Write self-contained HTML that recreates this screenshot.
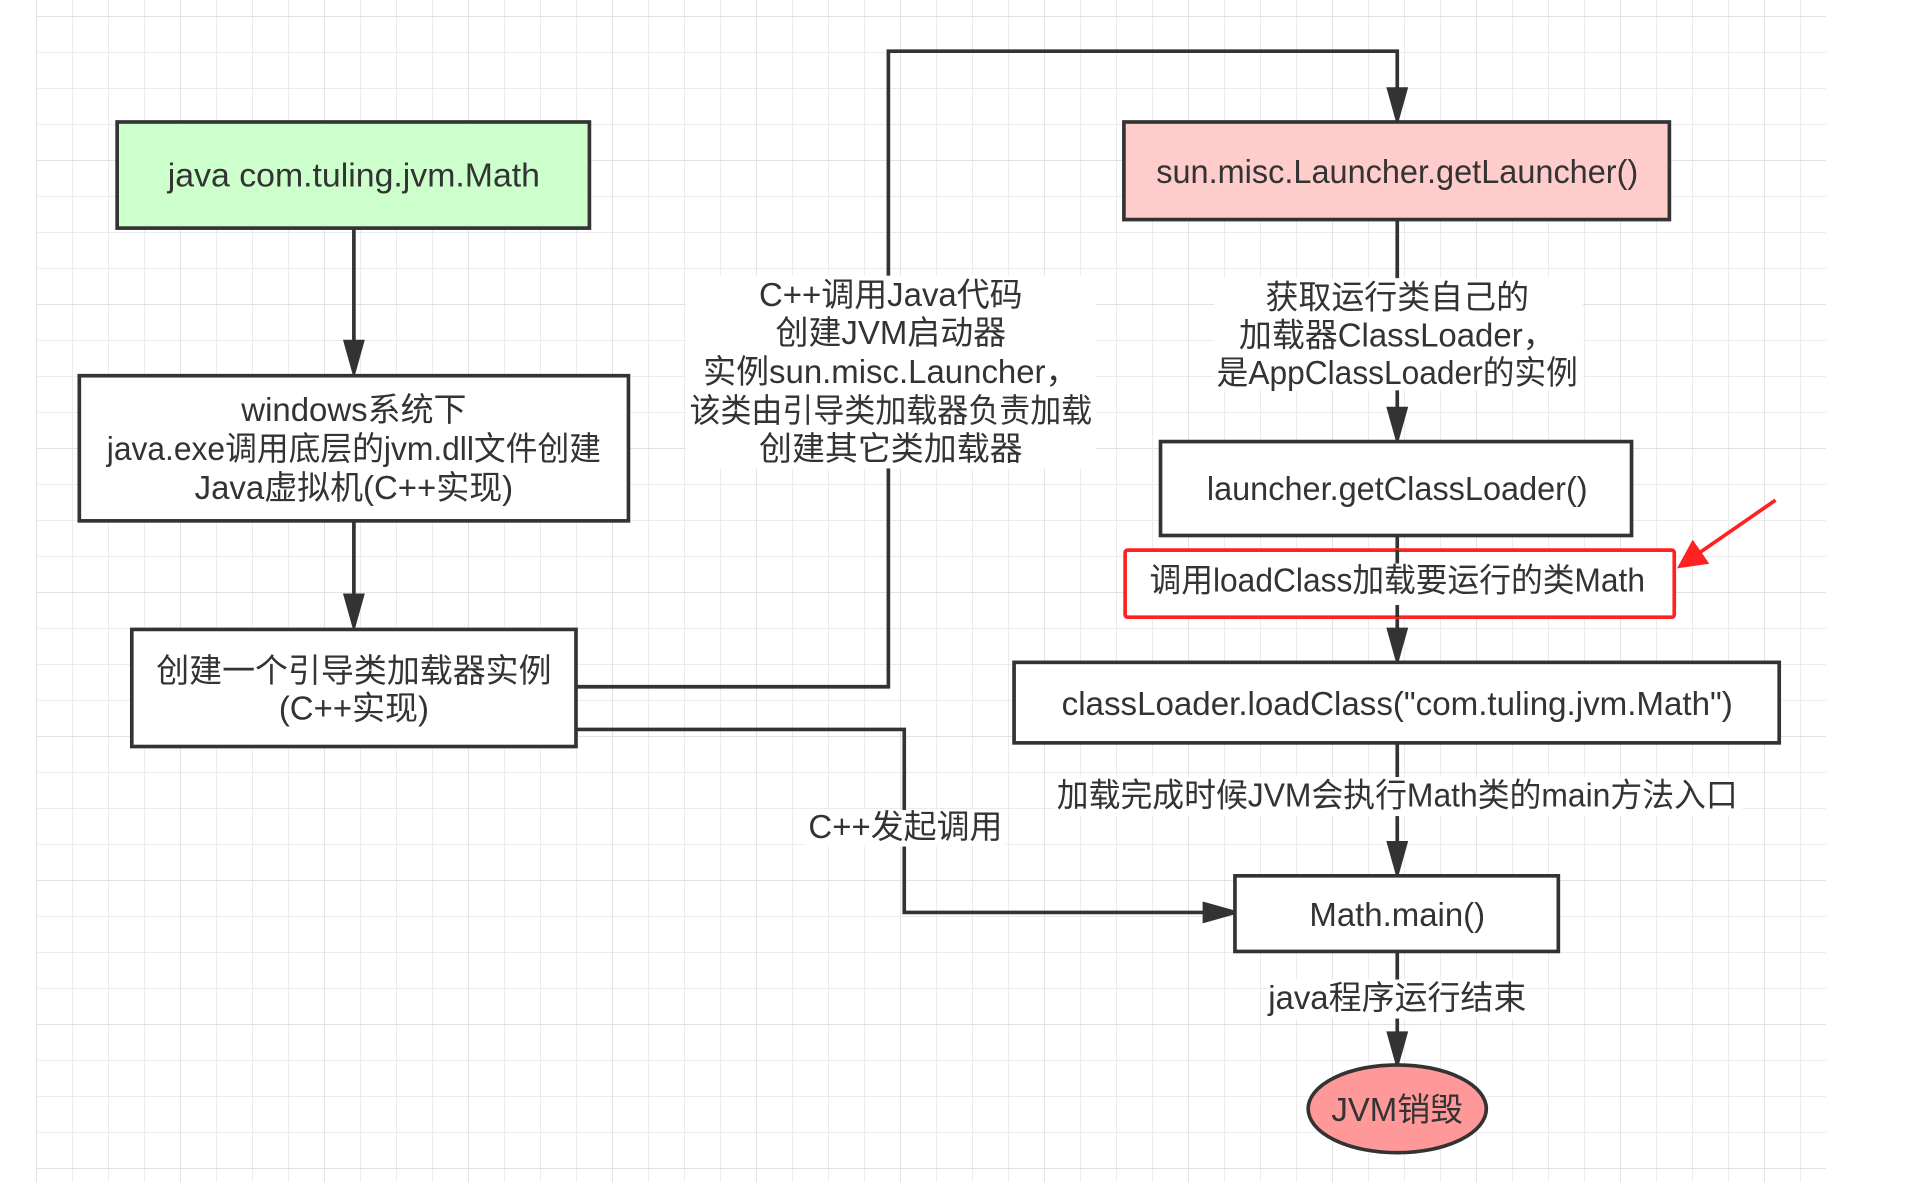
<!DOCTYPE html>
<html><head><meta charset="utf-8"><style>
html,body{margin:0;padding:0;background:#fff;}
svg{display:block;position:absolute;left:0;top:0;}
text{font-family:"Liberation Sans","Noto Sans CJK SC",sans-serif;fill:#333;}
</style></head><body>
<svg width="1911" height="1182" viewBox="0 0 1911 1182">
<defs>
<pattern id="g" x="36" y="16" width="36" height="36" patternUnits="userSpaceOnUse">
<path d="M0 0H36M0 0V36" stroke="#ececec" stroke-width="2" fill="none"/>
</pattern>
<pattern id="G" x="36" y="16" width="144" height="144" patternUnits="userSpaceOnUse">
<path d="M0 0H144M0 0V144" stroke="#e2e2e2" stroke-width="2" fill="none"/>
</pattern>
</defs>
<rect x="36" y="0" width="1790" height="1182" fill="url(#g)"/>
<rect x="36" y="0" width="1790" height="1182" fill="url(#G)"/>
</svg>
<svg width="1911" height="1182" viewBox="0 0 1566 969" preserveAspectRatio="none">
<defs>
<marker id="ar" viewBox="0 0 10 10" refX="2" refY="5" markerWidth="8" markerHeight="8" orient="auto"><path d="M0 0L10 5L0 10Z" fill="#f22"/></marker>
</defs>
<g stroke="#333" stroke-width="3" fill="none">
<path d="M290 187V294"/><path d="M283 280L290 305L297 280Z" fill="#333"/>
<path d="M290 427V500"/><path d="M283 488L290 513L297 488Z" fill="#333"/>
<path d="M472 563H728V42H1145V86"/><path d="M1138 73L1145 98L1152 73Z" fill="#333"/>
<path d="M472 598H741V748H1000"/><path d="M987 741L1012 748L987 755Z" fill="#333"/>
<path d="M1145 180V348"/><path d="M1138 335L1145 360L1152 335Z" fill="#333"/>
<path d="M1145 439V530"/><path d="M1138 516L1145 541L1152 516Z" fill="#333"/>
<path d="M1145 609V705"/><path d="M1138 691L1145 716L1152 691Z" fill="#333"/>
<path d="M1145 780V860"/><path d="M1138 847L1145 872L1152 847Z" fill="#333"/>
</g>
<rect x="96" y="100" width="387" height="87" fill="#ccffcc" stroke="#333" stroke-width="3"/>
<rect x="65" y="308" width="450" height="119" fill="#fff" stroke="#333" stroke-width="3"/>
<rect x="108" y="516" width="364" height="96" fill="#fff" stroke="#333" stroke-width="3"/>
<rect x="921" y="100" width="447" height="80" fill="#ffcccc" stroke="#333" stroke-width="3"/>
<rect x="951" y="362" width="386" height="77" fill="#fff" stroke="#333" stroke-width="3"/>
<rect x="922" y="451" width="450" height="55" fill="#fff" stroke="#f22" stroke-width="3" rx="2"/>
<path d="M1145 451V462M1145 496V506" stroke="#333" stroke-width="3"/>
<rect x="831" y="543" width="627" height="66" fill="#fff" stroke="#333" stroke-width="3"/>
<rect x="1012" y="718" width="265" height="62" fill="#fff" stroke="#333" stroke-width="3"/>
<ellipse cx="1145" cy="909" rx="73" ry="36" fill="#ff9999" stroke="#333" stroke-width="3"/>
<path d="M1455 410L1390 455" stroke="#f22" stroke-width="3" marker-end="url(#ar)"/>
<g fill="#fff">
<rect x="562" y="226" width="336" height="158"/>
<rect x="995" y="228" width="302" height="92"/>
<rect x="660" y="664" width="164" height="30"/>
<rect x="864" y="637" width="564" height="32"/>
<rect x="1042" y="803" width="206" height="32"/>
</g>
<g font-size="27" text-anchor="middle">
<text x="290" y="153" textLength="305" lengthAdjust="spacingAndGlyphs">java com.tuling.jvm.Math</text>
<text x="290" y="345">windows系统下</text>
<text x="290" y="377" textLength="405" lengthAdjust="spacingAndGlyphs">java.exe调用底层的jvm.dll文件创建</text>
<text x="290" y="409">Java虚拟机(C++实现)</text>
<text x="290" y="559">创建一个引导类加载器实例</text>
<text x="290" y="590">(C++实现)</text>
<text x="730" y="251">C++调用Java代码</text>
<text x="730" y="282">创建JVM启动器</text>
<text x="730" y="314">实例sun.misc.Launcher，</text>
<text x="730" y="346" textLength="330" lengthAdjust="spacingAndGlyphs">该类由引导类加载器负责加载</text>
<text x="730" y="377">创建其它类加载器</text>
<text x="742" y="687">C++发起调用</text>
<text x="1145" y="150" textLength="395" lengthAdjust="spacingAndGlyphs">sun.misc.Launcher.getLauncher()</text>
<text x="1145" y="253">获取运行类自己的</text>
<text x="1145" y="284">加载器ClassLoader，</text>
<text x="1145" y="315" textLength="296" lengthAdjust="spacingAndGlyphs">是AppClassLoader的实例</text>
<text x="1145" y="410" textLength="312" lengthAdjust="spacingAndGlyphs">launcher.getClassLoader()</text>
<text x="1145" y="485" textLength="406" lengthAdjust="spacingAndGlyphs">调用loadClass加载要运行的类Math</text>
<text x="1145" y="586" textLength="550" lengthAdjust="spacingAndGlyphs">classLoader.loadClass("com.tuling.jvm.Math")</text>
<text x="1145" y="661" textLength="558" lengthAdjust="spacingAndGlyphs">加载完成时候JVM会执行Math类的main方法入口</text>
<text x="1145" y="759">Math.main()</text>
<text x="1145" y="827">java程序运行结束</text>
<text x="1145" y="919">JVM销毁</text>
</g>
</svg>
</body></html>
